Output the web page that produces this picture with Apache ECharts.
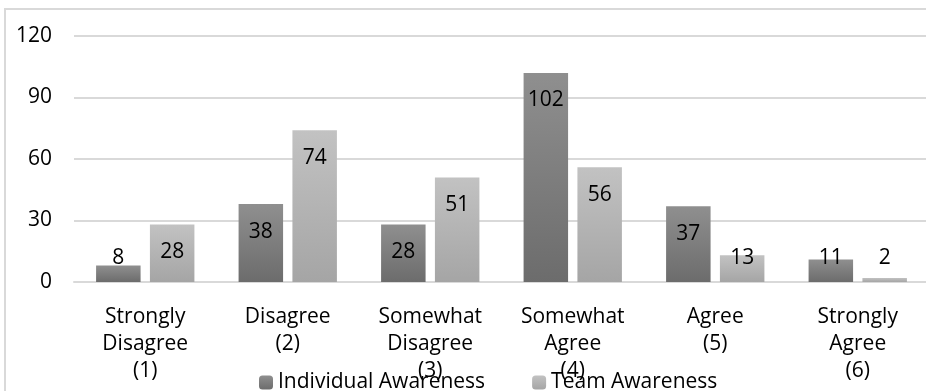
<!DOCTYPE html>
<html>
<head>
<meta charset="utf-8">
<script src="https://cdn.jsdelivr.net/npm/echarts@6/dist/echarts.min.js"></script>
<style>
html, body { margin: 0; padding: 0; overflow: hidden; background: #fff; }
.frame { position: absolute; left: 4px; top: 8px; width: 1000px; height: 1000px; border: 2px solid #d9d9d9; }
.bars { position: absolute; left: 0; top: 0; width: 940px; height: 391px; }
</style>
</head>
<body>
<div class="frame"></div>
<div class="bars"></div>
<script>
var categories = ['Strongly\nDisagree\n(1)', 'Disagree\n(2)', 'Somewhat\nDisagree\n(3)', 'Somewhat\nAgree\n(4)', 'Agree\n(5)', 'Strongly\nAgree\n(6)'];
var individual = [8, 38, 28, 102, 37, 11];
var team = [28, 74, 51, 56, 13, 2];
var yTicks = { min: 0, max: 120, interval: 30 };

var font = 'Open Sans';
var fs = 21;

function grad(top, bottom) {
    return new echarts.graphic.LinearGradient(0, 0, 0, 1, [
        { offset: 0, color: top },
        { offset: 1, color: bottom }
    ]);
}

// Excel-style "inside end": short bars get the label pushed up off the axis
function withLabels(values) {
    return values.map(function (v) {
        if (v < 26) {
            return { value: v, label: { position: 'insideBottom', distance: 13 } };
        }
        return { value: v, label: { position: 'insideTop', distance: 17 } };
    });
}

var myChart = echarts.init(document.querySelector('.bars'));
var option = {
    animation: false,
    textStyle: { fontFamily: font },
    grid: { left: 74, right: 11, top: 36, bottom: 109, containLabel: false },
    legend: {
        left: 254,
        top: 367,
        itemWidth: 14,
        itemHeight: 14,
        itemGap: 47,
        textStyle: { fontFamily: font, fontSize: fs, color: '#000' },
        data: ['Individual Awareness', 'Team Awareness']
    },
    xAxis: {
        type: 'category',
        data: categories,
        axisLine: { lineStyle: { color: '#d9d9d9', width: 2 } },
        axisTick: { show: false },
        axisLabel: {
            interval: 0,
            margin: 22,
            fontFamily: font,
            fontSize: fs,
            lineHeight: 27,
            color: '#000',
            verticalAlign: 'top'
        }
    },
    yAxis: {
        type: 'value',
        min: yTicks.min,
        max: yTicks.max,
        interval: yTicks.interval,
        axisLine: { show: false },
        axisTick: { show: false },
        splitLine: { lineStyle: { color: '#d9d9d9', width: 2 } },
        axisLabel: { margin: 22, fontFamily: font, fontSize: fs, color: '#000' }
    },
    series: [{
        name: 'Individual Awareness',
        type: 'bar',
        barGap: '21%',
        barCategoryGap: '31%',
        data: withLabels(individual),
        itemStyle: { color: grad('#8f8f8f', '#6c6c6c') },
        label: { show: true, fontFamily: font, fontSize: fs, color: '#000' }
    }, {
        name: 'Team Awareness',
        type: 'bar',
        data: withLabels(team),
        itemStyle: { color: grad('#c2c2c2', '#a5a5a5') },
        label: { show: true, fontFamily: font, fontSize: fs, color: '#000' }
    }]
};
myChart.setOption(option);

window.addEventListener('resize', function () {
    myChart.resize();
})
</script>
</body>
</html>
